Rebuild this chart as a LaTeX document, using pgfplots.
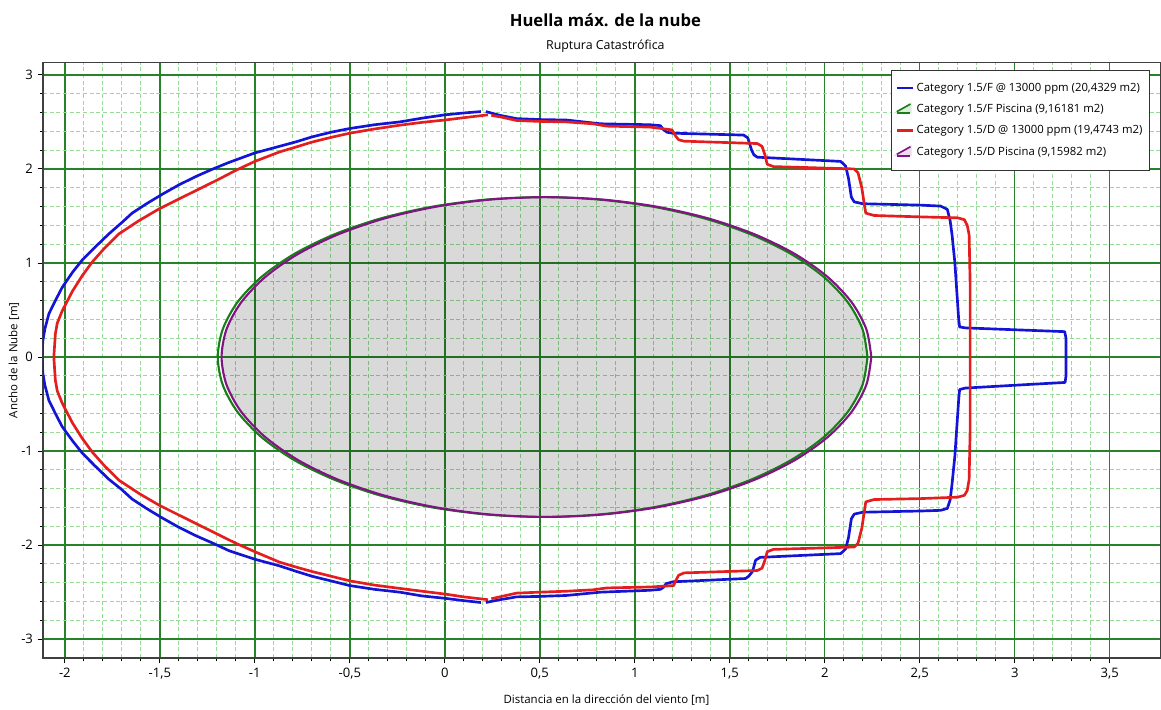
\documentclass[border=0pt]{standalone}
\usepackage{fontspec}
\setmainfont{Open Sans}
\usepackage{pgfplots}
\pgfplotsset{compat=1.18}
\usetikzlibrary{calc}
\definecolor{cBlue}{RGB}{20,20,215}
\definecolor{cRed}{RGB}{228,30,30}
\definecolor{cGreen}{RGB}{25,125,25}
\definecolor{cPurple}{RGB}{128,20,130}
\definecolor{gMajor}{RGB}{40,130,40}
\definecolor{gMinor}{RGB}{150,220,150}
\definecolor{poolGray}{RGB}{216,216,216}
\begin{document}
\begin{tikzpicture}
\begin{axis}[
  name=ax,
  scale only axis, width=838.5pt, height=446.5pt,
  xmin=-2.115, xmax=3.77, ymin=-3.2, ymax=3.13,
  xtick={-2,-1.5,-1,-0.5,0,0.5,1,1.5,2,2.5,3,3.5},
  ytick={-3,-2,-1,0,1,2,3},
  minor x tick num=4, minor y tick num=4,
  grid=both,
  major grid style={gMajor, line width=1.1pt},
  minor grid style={gMinor, dash pattern=on 3pt off 2pt, line width=0.7pt},
  tick align=outside, tick pos=left,
  major tick length=4pt, minor tick length=2.5pt,
  tick style={black, line width=0.7pt},
  axis line style={black!75, line width=0.9pt},
  /pgf/number format/use comma,
  /pgf/number format/assume math mode=true,
  ticklabel style={font=\fontsize{9.8}{11}\selectfont},
  xlabel={Distancia en la dirección del viento [m]},
  ylabel={Ancho de la Nube [m]},
  label style={font=\fontsize{8.6}{10}\selectfont},
  xlabel style={at={(axis description cs:0.504,0)}, anchor=base, yshift=-34pt},
  ylabel style={at={(axis description cs:-0.026,0.5)}, anchor=center},
  legend style={at={(rel axis cs:1,1)}, anchor=north east, xshift=-8.25pt, yshift=-5.5pt,
    font=\fontsize{8.5}{10}\selectfont, draw=black!80, fill=white, row sep=4.3pt,
    inner xsep=3.5pt, inner ysep=7.5pt, legend cell align=left},
  legend image code/.code={\draw[#1] (0cm,0cm) -- (0.42cm,0cm);},
]
% pool fill (intersection of both pools)
\addplot[draw=none, fill=black, fill opacity=0.15, forget plot] coordinates {
(2.225,0) (2.199,0.293) (2.122,0.578) (1.997,0.845) (1.827,1.086) (1.618,1.295) (1.375,1.464) (1.106,1.588) (0.820,1.664) (0.525,1.690)
(0.230,1.664) (-0.056,1.588) (-0.325,1.464) (-0.568,1.295) (-0.777,1.086) (-0.947,0.845) (-1.072,0.578) (-1.149,0.293) (-1.175,0)
(-1.149,-0.293) (-1.072,-0.578) (-0.947,-0.845) (-0.777,-1.086) (-0.568,-1.295) (-0.325,-1.464) (-0.056,-1.588) (0.230,-1.664) (0.525,-1.690)
(0.820,-1.664) (1.106,-1.588) (1.375,-1.464) (1.618,-1.295) (1.827,-1.086) (1.997,-0.845) (2.122,-0.578) (2.199,-0.293) (2.225,0)
} -- cycle;
% Blue F contour, left part
\addplot[cBlue, line width=2pt, line join=round] coordinates {
(0.19,2.61) (0.10,2.595) (0.0,2.575) (-0.12,2.54) (-0.237,2.50) (-0.37,2.47) (-0.5,2.43) (-0.6,2.39) (-0.7,2.34) (-0.78,2.29)
(-0.871,2.24) (-1.0,2.17) (-1.135,2.07) (-1.22,2.00) (-1.31,1.92) (-1.40,1.83) (-1.488,1.73) (-1.57,1.63) (-1.646,1.53) (-1.70,1.43)
(-1.768,1.31) (-1.84,1.17) (-1.909,1.03) (-1.96,0.90) (-2.014,0.74) (-2.05,0.60) (-2.084,0.46) (-2.105,0.30) (-2.116,0.17) (-2.12,0.0)
(-2.116,-0.17) (-2.105,-0.30) (-2.084,-0.46) (-2.05,-0.60) (-2.014,-0.74) (-1.96,-0.89) (-1.909,-1.02) (-1.84,-1.16) (-1.768,-1.30)
(-1.70,-1.41) (-1.646,-1.51) (-1.57,-1.61) (-1.488,-1.71) (-1.40,-1.81) (-1.31,-1.90) (-1.22,-1.98) (-1.135,-2.06) (-1.0,-2.15)
(-0.871,-2.22) (-0.78,-2.28) (-0.7,-2.33) (-0.6,-2.38) (-0.5,-2.43) (-0.37,-2.47) (-0.237,-2.50) (-0.12,-2.54) (0.0,-2.565)
(0.10,-2.59) (0.19,-2.61)
};
\addlegendentry{Category 1.5/F @ 13000 ppm (20,4329 m2)}
% Green F pool
\addplot[cGreen, line width=1.6pt, smooth,
  legend image code/.code={
    \fill[cGreen!15] (0cm,-0.08cm) -- (0.36cm,0.14cm) -- (0.36cm,-0.08cm) -- cycle;
    \draw[cGreen, line width=1.2pt] (0.36cm,0.14cm) -- (0cm,-0.06cm);
    \draw[cGreen, line width=1.2pt] (0cm,-0.1cm) -- (0.36cm,-0.1cm);}
] coordinates {
(2.225,0) (2.199,0.295) (2.122,0.581) (1.996,0.850) (1.825,1.093) (1.614,1.302) (1.370,1.472) (1.100,1.597) (0.812,1.674) (0.515,1.700)
(0.218,1.674) (-0.070,1.597) (-0.340,1.472) (-0.584,1.302) (-0.795,1.093) (-0.966,0.850) (-1.092,0.581) (-1.169,0.295) (-1.195,0)
(-1.169,-0.295) (-1.092,-0.581) (-0.966,-0.850) (-0.795,-1.093) (-0.584,-1.302) (-0.340,-1.472) (-0.070,-1.597) (0.218,-1.674) (0.515,-1.700)
(0.812,-1.674) (1.100,-1.597) (1.370,-1.472) (1.614,-1.302) (1.825,-1.093) (1.996,-0.850) (2.122,-0.581) (2.199,-0.295) (2.225,0)
};
\addlegendentry{Category 1.5/F Piscina (9,16181 m2)}
% Red D contour, left part
\addplot[cRed, line width=2pt, line join=round] coordinates {
(0.227,2.575) (0.10,2.545) (0.0,2.52) (-0.12,2.495) (-0.237,2.465) (-0.37,2.425) (-0.5,2.38) (-0.6,2.335) (-0.7,2.285) (-0.78,2.235)
(-0.871,2.18) (-1.0,2.08) (-1.10,1.985) (-1.20,1.88) (-1.31,1.77) (-1.40,1.68) (-1.504,1.575) (-1.61,1.45) (-1.715,1.31) (-1.79,1.16)
(-1.856,1.01) (-1.91,0.86) (-1.96,0.70) (-2.014,0.49) (-2.04,0.36) (-2.05,0.245) (-2.058,0.0) (-2.05,-0.245) (-2.04,-0.36) (-2.014,-0.49)
(-1.96,-0.70) (-1.91,-0.86) (-1.856,-1.01) (-1.79,-1.16) (-1.715,-1.31) (-1.61,-1.45) (-1.504,-1.575) (-1.40,-1.68) (-1.31,-1.77)
(-1.20,-1.88) (-1.10,-1.98) (-1.0,-2.07) (-0.871,-2.18) (-0.78,-2.235) (-0.7,-2.28) (-0.6,-2.33) (-0.5,-2.38) (-0.37,-2.425)
(-0.237,-2.46) (-0.12,-2.49) (0.0,-2.52) (0.10,-2.55) (0.227,-2.58)
};
\addlegendentry{Category 1.5/D @ 13000 ppm (19,4743 m2)}
% Purple D pool
\addplot[cPurple, line width=1.6pt, smooth,
  legend image code/.code={
    \fill[cPurple!15] (0cm,-0.08cm) -- (0.36cm,0.14cm) -- (0.36cm,-0.08cm) -- cycle;
    \draw[cPurple, line width=1.2pt] (0.36cm,0.14cm) -- (0cm,-0.06cm);
    \draw[cPurple, line width=1.2pt] (0cm,-0.1cm) -- (0.36cm,-0.1cm);}
] coordinates {
(2.245,0) (2.219,0.295) (2.142,0.581) (2.016,0.850) (1.845,1.093) (1.634,1.302) (1.390,1.472) (1.120,1.597) (0.832,1.674) (0.535,1.700)
(0.238,1.674) (-0.050,1.597) (-0.320,1.472) (-0.564,1.302) (-0.775,1.093) (-0.946,0.850) (-1.072,0.581) (-1.149,0.295) (-1.175,0)
(-1.149,-0.295) (-1.072,-0.581) (-0.946,-0.850) (-0.775,-1.093) (-0.564,-1.302) (-0.320,-1.472) (-0.050,-1.597) (0.238,-1.674) (0.535,-1.700)
(0.832,-1.674) (1.120,-1.597) (1.390,-1.472) (1.634,-1.302) (1.845,-1.093) (2.016,-0.850) (2.142,-0.581) (2.219,-0.295) (2.245,0)
};
\addlegendentry{Category 1.5/D Piscina (9,15982 m2)}
% Blue F contour, right part
\addplot[cBlue, line width=2pt, line join=round, forget plot] coordinates {
(0.216,2.61) (0.29,2.57) (0.378,2.535) (0.50,2.525) (0.64,2.52) (0.82,2.48) (1.08,2.47) (1.135,2.46) (1.15,2.42) (1.17,2.39)
(1.20,2.38) (1.573,2.36) (1.595,2.33) (1.615,2.20) (1.627,2.15) (1.645,2.125) (2.084,2.08) (2.11,2.03) (2.125,1.90) (2.14,1.70)
(2.155,1.65) (2.20,1.63) (2.507,1.615) (2.61,1.605) (2.645,1.57) (2.66,1.45) (2.67,1.30) (2.685,1.0) (2.695,0.7) (2.705,0.40)
(2.71,0.32) (2.74,0.31) (3.0,0.29) (3.263,0.27) (3.27,0.20) (3.27,-0.20) (3.265,-0.27) (3.0,-0.30) (2.74,-0.33) (2.71,-0.345)
(2.705,-0.45) (2.695,-0.75) (2.685,-1.05) (2.67,-1.35) (2.66,-1.52) (2.645,-1.61) (2.61,-1.63) (2.507,-1.637) (2.20,-1.65)
(2.155,-1.67) (2.14,-1.72) (2.125,-1.92) (2.11,-2.04) (2.084,-2.09) (1.66,-2.13) (1.636,-2.16) (1.62,-2.28) (1.60,-2.33)
(1.583,-2.355) (1.20,-2.39) (1.165,-2.41) (1.15,-2.45) (1.135,-2.47) (1.08,-2.48) (0.82,-2.50) (0.64,-2.535) (0.50,-2.545)
(0.378,-2.55) (0.29,-2.58) (0.216,-2.61)
};
% Red D contour, right part
\addplot[cRed, line width=2pt, line join=round, forget plot] coordinates {
(0.245,2.57) (0.30,2.55) (0.378,2.515) (0.50,2.505) (0.64,2.50) (0.78,2.48) (0.853,2.455) (1.08,2.445) (1.196,2.415) (1.215,2.35)
(1.231,2.31) (1.26,2.295) (1.645,2.27) (1.67,2.24) (1.685,2.15) (1.697,2.05) (1.73,2.025) (2.155,2.0) (2.175,1.96) (2.195,1.80)
(2.21,1.60) (2.216,1.53) (2.26,1.505) (2.507,1.49) (2.70,1.48) (2.735,1.46) (2.75,1.40) (2.76,1.30) (2.765,0.8) (2.765,0.0)
(2.765,-0.8) (2.76,-1.30) (2.75,-1.42) (2.735,-1.47) (2.70,-1.49) (2.507,-1.505) (2.26,-1.515) (2.216,-1.54) (2.21,-1.62)
(2.195,-1.82) (2.175,-1.98) (2.155,-2.02) (1.73,-2.045) (1.697,-2.07) (1.685,-2.16) (1.67,-2.245) (1.645,-2.27) (1.26,-2.295)
(1.231,-2.32) (1.215,-2.38) (1.205,-2.43) (1.08,-2.445) (0.853,-2.455) (0.78,-2.475) (0.64,-2.49) (0.50,-2.50) (0.378,-2.51)
(0.30,-2.545) (0.245,-2.57)
};
\end{axis}
\node[anchor=base, font=\fontsize{12.5}{14}\selectfont\bfseries] at ($(ax.north west)!0.503!(ax.north east)+(0,26.8pt)$) {Huella máx. de la nube};
\node[anchor=base, font=\fontsize{9.3}{11}\selectfont] at ($(ax.north west)!0.503!(ax.north east)+(0,10pt)$) {Ruptura Catastrófica};
\pgfresetboundingbox
\path[use as bounding box] ($(ax.south west)+(-32.25pt,-38.25pt)$) rectangle ($(ax.north east)+(0pt,47pt)$);
\end{tikzpicture}
\end{document}
